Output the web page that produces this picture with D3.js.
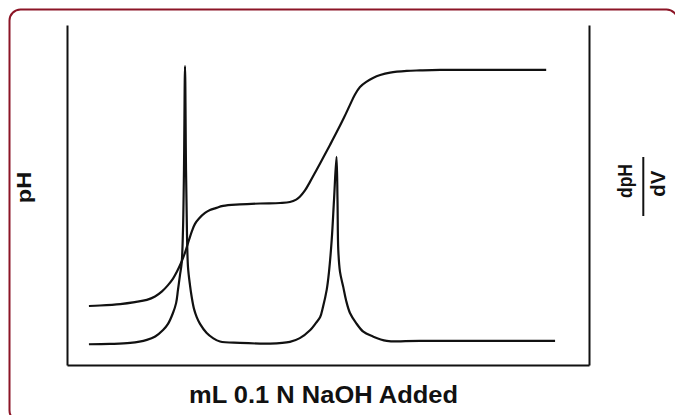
<!DOCTYPE html>
<html>
<head>
<meta charset="utf-8">
<script src="https://cdn.jsdelivr.net/npm/d3@7"></script>
<style>
  html, body { margin: 0; padding: 0; background: #fff; }
  svg { display: block; }
</style>
</head>
<body>
<svg id="chart" width="675" height="415"></svg>
<script>
// ---- data (x in arbitrary volume units, pH, dpH/dV in relative units) ----
const phVolume = [4.2, 6.3, 10.2, 13.0, 15.3, 16.86, 18.2, 19.35, 20.31, 21.07, 21.84, 22.61, 23.37, 23.95, 24.52, 25.29, 26.44, 27.39, 28.5, 29.9, 33.1, 37.0, 40.8, 42.7, 43.9, 44.6, 45.59, 46.55, 47.7, 49.04, 50.38, 51.72, 53.07, 54.21, 55.17, 56.13, 57.41, 58.62, 60.0, 61.9, 65.1, 67.6, 71.5, 91.8];
const phValues = [2.43, 2.45, 2.51, 2.59, 2.68, 2.82, 3.03, 3.29, 3.56, 3.85, 4.20, 4.63, 5.15, 5.52, 5.81, 6.03, 6.26, 6.38, 6.46, 6.55, 6.61, 6.65, 6.67, 6.71, 6.81, 6.93, 7.19, 7.54, 7.99, 8.52, 9.06, 9.61, 10.19, 10.71, 11.14, 11.45, 11.67, 11.82, 11.94, 12.04, 12.11, 12.13, 12.15, 12.15];

const derivVolume = [4.2, 8.2, 12.1, 15.3, 16.9, 18.4, 19.35, 20.3, 20.9, 21.26, 21.65, 21.97, 22.22, 22.41, 22.61, 22.80, 22.99, 23.18, 23.56, 23.89, 24.33, 24.85, 25.48, 26.76, 27.97, 29.31, 33.1, 38.9, 42.7, 44.6, 46.6, 47.7, 48.5, 49.0, 49.75, 50.19, 50.71, 51.15, 51.63, 51.82, 51.97, 52.30, 52.93, 53.45, 54.21, 55.36, 56.76, 58.43, 61.25, 67.6, 93.5];
const derivValues = [0.061, 0.062, 0.065, 0.074, 0.084, 0.103, 0.121, 0.153, 0.182, 0.221, 0.265, 0.300, 0.397, 0.574, 0.879, 0.574, 0.382, 0.288, 0.235, 0.200, 0.165, 0.141, 0.121, 0.094, 0.079, 0.069, 0.065, 0.063, 0.068, 0.079, 0.103, 0.124, 0.141, 0.168, 0.221, 0.274, 0.368, 0.485, 0.612, 0.485, 0.338, 0.274, 0.229, 0.191, 0.153, 0.124, 0.098, 0.085, 0.071, 0.071, 0.071];

const xTitle = "mL 0.1 N NaOH Added";
const yLeftTitle = "pH";
const yRightNum = "dpH";
const yRightDen = "dV";

// ---- drawing ----
const svg = d3.select("#chart");
const ink = "#111";

// rounded frame
svg.append("rect")
  .attr("x", 9.5).attr("y", 9.5)
  .attr("width", 668).attr("height", 412)
  .attr("rx", 11).attr("ry", 11)
  .attr("fill", "none")
  .attr("stroke", "#8c1526")
  .attr("stroke-width", 2);

const plot = { left: 67, right: 589, top: 25, bottom: 365 };

const x = d3.scaleLinear().domain([0, 100]).range([plot.left, plot.right]);
const yPH = d3.scaleLinear().domain([0, 14]).range([plot.bottom, plot.top]);
const yD = d3.scaleLinear().domain([0, 1]).range([plot.bottom, plot.top]);

// axes (no ticks)
const leftAxis = d3.axisLeft(yPH).tickValues([]).tickSizeOuter(0);
const rightAxis = d3.axisRight(yD).tickValues([]).tickSizeOuter(0);
const bottomAxis = d3.axisBottom(x).tickValues([]).tickSizeOuter(0);

function styleAxis(g) {
  g.select(".domain").attr("stroke", ink).attr("stroke-width", 2);
}
svg.append("g").attr("transform", `translate(${plot.left},0)`).call(leftAxis).call(styleAxis);
svg.append("g").attr("transform", `translate(${plot.right},0)`).call(rightAxis).call(styleAxis);
svg.append("g").attr("transform", `translate(0,${plot.bottom})`).call(bottomAxis).call(styleAxis);

// curves
const phData = phVolume.map((v, i) => [v, phValues[i]]);
const dData = derivVolume.map((v, i) => [v, derivValues[i]]);

const phLine = d3.line().x(d => x(d[0])).y(d => yPH(d[1])).curve(d3.curveCatmullRom.alpha(0.5));
const dLine = d3.line().x(d => x(d[0])).y(d => yD(d[1])).curve(d3.curveCatmullRom.alpha(0.5));

svg.append("path").datum(phData)
  .attr("d", phLine).attr("fill", "none")
  .attr("stroke", ink).attr("stroke-width", 2.2).attr("stroke-linejoin", "round");
svg.append("path").datum(dData)
  .attr("d", dLine).attr("fill", "none")
  .attr("stroke", ink).attr("stroke-width", 2.2).attr("stroke-linejoin", "round");

// labels
const font = "'Liberation Sans', Arial, sans-serif";

svg.append("text")
  .attr("x", 323.5).attr("y", 403)
  .attr("text-anchor", "middle")
  .attr("font-family", font).attr("font-weight", "bold").attr("font-size", 23)
  .attr("textLength", 269).attr("lengthAdjust", "spacingAndGlyphs")
  .attr("fill", ink)
  .text(xTitle);

svg.append("text")
  .attr("transform", "translate(31,187.5) rotate(-90)")
  .attr("text-anchor", "middle")
  .attr("font-family", font).attr("font-weight", "bold").attr("font-size", 21)
  .attr("textLength", 31.5).attr("lengthAdjust", "spacingAndGlyphs")
  .attr("fill", ink)
  .text(yLeftTitle);

svg.append("text")
  .attr("transform", "translate(632,181) rotate(-90)")
  .attr("text-anchor", "middle")
  .attr("font-family", font).attr("font-weight", "bold").attr("font-size", 21)
  .attr("textLength", 34).attr("lengthAdjust", "spacingAndGlyphs")
  .attr("fill", ink)
  .text(yRightNum);

svg.append("line")
  .attr("x1", 643.3).attr("x2", 643.3)
  .attr("y1", 157).attr("y2", 216)
  .attr("stroke", ink).attr("stroke-width", 2);

svg.append("text")
  .attr("transform", "translate(665,183.7) rotate(-90)")
  .attr("text-anchor", "middle")
  .attr("font-family", font).attr("font-weight", "bold").attr("font-size", 21)
  .attr("textLength", 26).attr("lengthAdjust", "spacingAndGlyphs")
  .attr("fill", ink)
  .text(yRightDen);
</script>
</body>
</html>
